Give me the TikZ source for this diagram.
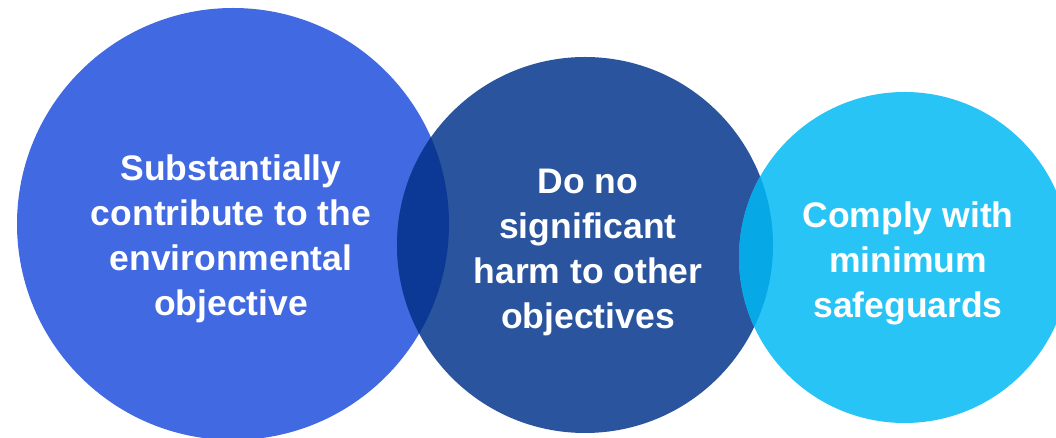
\documentclass[tikz,border=0pt]{standalone}
\usepackage{fontspec}
\setmainfont{Liberation Sans}
\definecolor{leftblue}{RGB}{65,105,225}
\definecolor{midblue}{RGB}{42,85,158}
\definecolor{rightblue}{RGB}{41,196,246}
\definecolor{lensleft}{RGB}{12,57,150}
\definecolor{lensright}{RGB}{6,168,230}
\tikzset{circle text/.style={text=white, font=\bfseries\fontsize{35.5pt}{45pt}\selectfont, align=center, inner sep=0pt}}

\begin{document}
\begin{tikzpicture}[x=1pt,y=1pt]
			%%%%% START %%%%%
			
			\useasboundingbox (0, 0) rectangle (1056, 438);
			\clip (0, 0) rectangle (1056, 438);
			
			\fill[leftblue] (233, 214) circle (216pt);
			\fill[midblue] (585, 193) circle (188pt);
			\fill[rightblue] (904.5, 180.5) circle (165.5pt);
			
			\begin{scope}
				\clip (233, 214) circle (216pt);
				\fill[lensleft] (585, 193) circle (188pt);
			\end{scope}
			\begin{scope}
				\clip (585, 193) circle (188pt);
				\fill[lensright] (904.5, 180.5) circle (165.5pt);
			\end{scope}
			
			\node[circle text] (contribute) at (231, 199.5) {Substantially\\contribute to the\\environmental\\objective};
			\node[circle text] (noharm) at (588, 186) {Do no\\significant\\harm to other\\objectives};
			\node[circle text] (safeguards) at (908, 174.5) {Comply with\\minimum\\safeguards};
			
			%%%%% END %%%%%
\end{tikzpicture}
\end{document}
